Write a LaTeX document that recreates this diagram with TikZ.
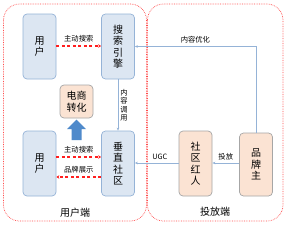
\documentclass[tikz,border=0pt]{standalone}
\usepackage{fontspec}
\setmainfont{Noto Sans CJK SC}
\usetikzlibrary{arrows.meta}
\definecolor{bfill}{HTML}{DCE6F2}
\definecolor{bline}{HTML}{95B3D7}
\definecolor{ofill}{HTML}{FBE3D3}
\definecolor{oline}{HTML}{A6A6A6}
\definecolor{redl}{HTML}{FF1F1F}
\definecolor{upblue}{HTML}{4F8ACB}
\tikzset{
  bbox/.style={draw=bline, fill=bfill, rounded corners=4pt, line width=0.7pt, align=center, font=\fontsize{10}{11.5}\selectfont, inner sep=0pt},
  obox/.style={draw=oline, fill=ofill, rounded corners=4pt, line width=0.7pt, align=center, font=\fontsize{10}{11.5}\selectfont, inner sep=0pt},
  region/.style={draw=redl!80, densely dotted, line width=0.7pt, rounded corners=16pt},
  reddash/.style={draw=redl, dashed, dash pattern=on 3pt off 2.5pt, line width=1.2pt, -{Stealth[length=3pt,width=3.5pt]}},
  blueln/.style={draw=bline, line width=0.7pt, -{Stealth[length=3pt,width=2.5pt]}},
  lbl/.style={font=\fontsize{7.3}{8}\selectfont, inner sep=1pt},
  reglbl/.style={font=\fontsize{10}{11}\selectfont, inner sep=0pt}
}
\begin{document}
\begin{tikzpicture}[x=1pt,y=-1pt]
\useasboundingbox (0,0) rectangle (288,226);
\fill[white] (0,0) rectangle (288,226);
\draw[region] (3.5,4) rectangle (146.5,221);
\draw[region] (147.5,4) rectangle (283,221);
\node[reglbl] (lu) at (75,213) {用户端};
\node[reglbl] (lt) at (215,212) {投放端};
% boxes
\node[bbox, minimum width=33pt, minimum height=65pt] (u1) at (39.5,46.5) {用\\户};
\node[bbox, minimum width=33pt, minimum height=65pt] (se) at (118,46.5) {搜\\索\\引\\擎};
\node[obox, minimum width=33pt, minimum height=33pt] (ec) at (76.5,101.5) {电商\\转化};
\node[bbox, minimum width=33pt, minimum height=65pt] (u2) at (39.5,163.5) {用\\户};
\node[bbox, minimum width=33pt, minimum height=65pt] (vc) at (118,163.5) {垂\\直\\社\\区};
\node[obox, minimum width=33pt, minimum height=65pt] (kol) at (195.5,163.5) {社\\区\\红\\人};
\node[obox, minimum width=33pt, minimum height=63pt] (bo) at (256,164.5) {品\\牌\\主};
% up arrow
\fill[upblue] (71.5,140) -- (71.5,129) -- (67,129) -- (76.5,119.5) -- (86,129) -- (81.5,129) -- (81.5,140) -- cycle;
% red dashed
\draw[reddash] (u1.east |- 0,46) -- (se.west |- 0,46) node[lbl, midway, above=2pt, text=black] {主动搜索};
\draw[reddash] (u2.east |- 0,157) -- (vc.west |- 0,157) node[lbl, midway, above=2pt, text=black] {主动搜索};
\draw[reddash] (vc.west |- 0,177) -- (u2.east |- 0,177) node[lbl, midway, above=2pt, text=black] {品牌展示};
% blue lines
\draw[blueln] (se.south) -- (vc.north) node[lbl, midway, right=1pt, align=center, font=\fontsize{7.3}{8.5}\selectfont] {内\\容\\调\\用};
\draw[blueln] (bo.north) |- (se.east |- 0,46.5) node[lbl, pos=0.75, above=2pt] {内容优化};
\draw[blueln] (kol.west |- 0,163) -- (vc.east |- 0,163) node[lbl, midway, above=2pt, xshift=3pt] {UGC};
\draw[blueln] (bo.west |- 0,163) -- (kol.east |- 0,163) node[lbl, midway, above=2pt] {投放};
\end{tikzpicture}
\end{document}
